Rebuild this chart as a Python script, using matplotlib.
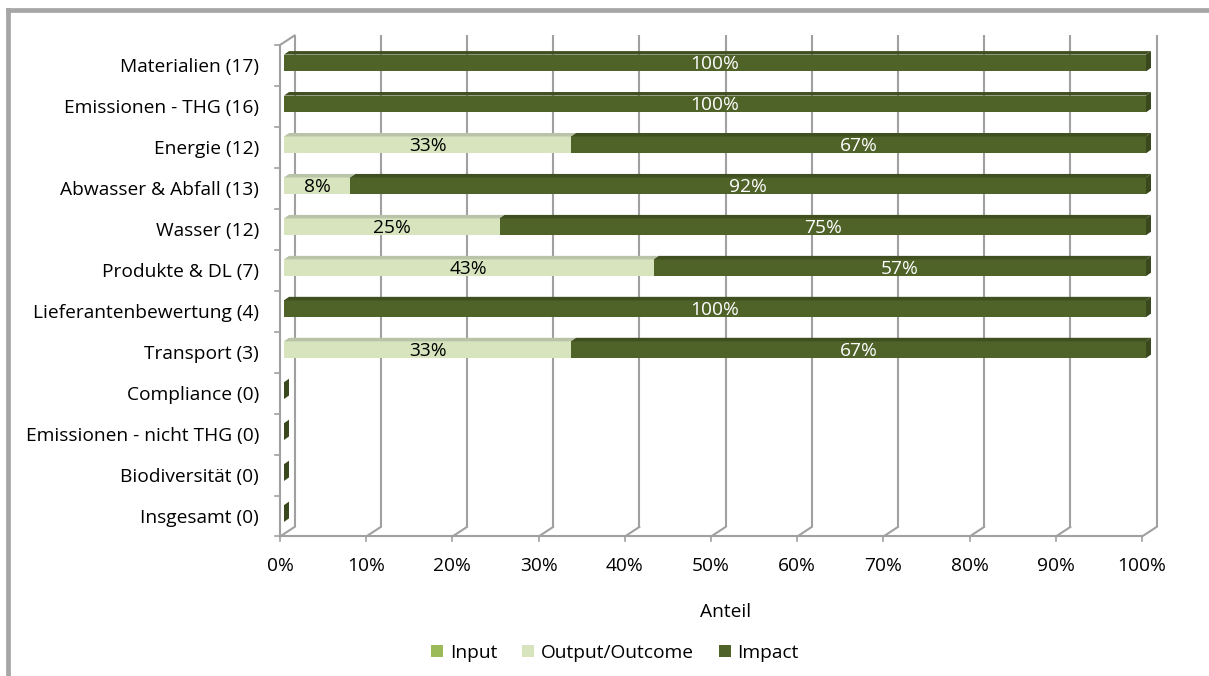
import matplotlib
matplotlib.use("Agg")
import matplotlib.pyplot as plt
from matplotlib.transforms import offset_copy, IdentityTransform
from matplotlib.patches import Polygon, Patch
from matplotlib.lines import Line2D

plt.rcParams['font.family'] = ['Open Sans', 'DejaVu Sans']
FS = 13.8

categories = ["Materialien (17)", "Emissionen - THG (16)", "Energie (12)",
              "Abwasser & Abfall (13)", "Wasser (12)", "Produkte & DL (7)",
              "Lieferantenbewertung (4)", "Transport (3)", "Compliance (0)",
              "Emissionen - nicht THG (0)", "Biodiversität (0)", "Insgesamt (0)"]
input_vals = [0, 0, 0, 0, 0, 0, 0, 0, 0, 0, 0, 0]
output_vals = [0, 0, 33.3, 7.7, 25.0, 42.9, 0, 33.3, 0, 0, 0, 0]
impact_vals = [100, 100, 66.7, 92.3, 75.0, 57.1, 100, 66.7, 0, 0, 0, 0]
xticks = [0, 10, 20, 30, 40, 50, 60, 70, 80, 90, 100]
xticklabels = [f"{t}%" for t in xticks]
series_names = ["Input", "Output/Outcome", "Impact"]

front_col = {"Input": "#9bbb59", "Output/Outcome": "#d7e4bd", "Impact": "#4f6228"}
top_col = {"Input": "#8aa64e", "Output/Outcome": "#b9c3a8", "Impact": "#3f4f20"}
side_col = {"Input": "#7d9747", "Output/Outcome": "#aab597", "Impact": "#3a481d"}
lab_col = {"Input": "black", "Output/Outcome": "black", "Impact": "white"}

W, H = 1209, 676
fig = plt.figure(figsize=(W / 100, H / 100), dpi=100)
X0, X1 = 280, 1142
YT, YB = 45, 536.5
ax = fig.add_axes([X0 / W, 1 - YB / H, (X1 - X0) / W, (YB - YT) / H])
n = len(categories)
ax.set_xlim(0, 100)
ax.set_ylim(n - 0.5, -0.5)
ax.axis("off")

DX, DY = 14.5, 9.5          # wall depth in pixels
grid_c = "#a0a0a0"
back = offset_copy(ax.transData, fig=fig, x=DX, y=DY, units="dots")

# back wall gridlines
for t in xticks:
    ax.plot([t, t], [-0.5, n - 0.5], color=grid_c, lw=1.5, transform=back,
            solid_capstyle="butt", zorder=1, clip_on=False)

def disp(x, y, dx=0, dy=0):
    px, py = ax.transData.transform((x, y))
    return (px + dx, py + dy)

# floor slants and left wall
for t in xticks:
    p1 = disp(t, n - 0.5)
    p2 = disp(t, n - 0.5, DX, DY)
    fig.add_artist(Line2D([p1[0], p2[0]], [p1[1], p2[1]], color=grid_c, lw=1.5,
                          transform=IdentityTransform()))
p1 = disp(0, -0.5)
p2 = disp(0, -0.5, DX, DY)
fig.add_artist(Line2D([p1[0], p2[0]], [p1[1], p2[1]], color=grid_c, lw=1.5,
                      transform=IdentityTransform()))
ax.plot([0, 100], [n - 0.5, n - 0.5], color=grid_c, lw=1.5, clip_on=False, zorder=1)
ax.plot([0, 0], [-0.5, n - 0.5], color=grid_c, lw=1.5, clip_on=False, zorder=1)
# ticks
for i in range(n + 1):
    p = disp(0, i - 0.5)
    fig.add_artist(Line2D([p[0] - 5, p[0]], [p[1], p[1]], color=grid_c, lw=1.2,
                          transform=IdentityTransform()))
for t, lab in zip(xticks, xticklabels):
    p = disp(t, n - 0.5)
    fig.add_artist(Line2D([p[0], p[0]], [p[1], p[1] - 5], color=grid_c, lw=1.2,
                          transform=IdentityTransform()))
    ax.text(t, n - 0.5, lab, transform=offset_copy(
        ax.transData, fig=fig, x=0, y=-30, units="dots"),
        ha="center", va="center", fontsize=FS, color="black")

for i, c in enumerate(categories):
    ax.text(0, i, c, transform=offset_copy(ax.transData, fig=fig, x=-21, y=-2, units="dots"),
            ha="right", va="center", fontsize=FS, color="black")

# bars
BO_X, BO_Y = 4, 2.5       # front face offset
BD_X, BD_Y = 5, 3.5       # bar depth
bh = 0.41
btr = offset_copy(ax.transData, fig=fig, x=BO_X, y=BO_Y, units="dots")
ltr = offset_copy(ax.transData, fig=fig, x=BO_X, y=BO_Y - 1.5, units="dots")
series = [input_vals, output_vals, impact_vals]
for i in range(n):
    left = 0
    for name, vals in zip(series_names, series):
        v = vals[i]
        if v > 0:
            ax.barh(i, v, left=left, height=bh, color=front_col[name],
                    transform=btr, zorder=3, edgecolor="none", clip_on=False)
            a = disp(left, i - bh / 2, BO_X, BO_Y)
            b = disp(left + v, i - bh / 2, BO_X, BO_Y)
            top = Polygon([a, b, (b[0] + BD_X, b[1] + BD_Y), (a[0] + BD_X, a[1] + BD_Y)],
                          closed=True, facecolor=top_col[name], edgecolor="none",
                          transform=IdentityTransform(), zorder=3)
            fig.add_artist(top)
            ax.text(left + v / 2, i, f"{v:.0f}%", transform=ltr, ha="center",
                    va="center", fontsize=FS, color=lab_col[name], zorder=5)
        left += v
    # right end cap
    name = "Impact"
    a = disp(left, i - bh / 2, BO_X, BO_Y)
    b = disp(left, i + bh / 2, BO_X, BO_Y)
    cap = Polygon([b, a, (a[0] + BD_X, a[1] + BD_Y), (b[0] + BD_X, b[1] + BD_Y)],
                  closed=True, facecolor=side_col[name], edgecolor="none",
                  transform=IdentityTransform(), zorder=4)
    fig.add_artist(cap)

fig.text(726 / W, 1 - 612 / H, "Anteil", ha="center", va="center", fontsize=FS)

handles = [Patch(facecolor=front_col[s], edgecolor="none") for s in series_names]
fig.legend(handles, series_names, loc="center", bbox_to_anchor=(615 / W, 1 - 653 / H),
           ncol=3, frameon=False, fontsize=FS, handlelength=0.62, handleheight=0.62,
           handletextpad=0.35, columnspacing=1.3)

# outer frame
frame_c = "#a6a6a6"
fig.add_artist(Line2D([7.5 / W, 7.5 / W], [0, 1 - 9.5 / H], color=frame_c, lw=3.4,
                      transform=fig.transFigure, solid_capstyle="projecting"))
fig.add_artist(Line2D([7.5 / W, 1], [1 - 9.5 / H, 1 - 9.5 / H], color=frame_c, lw=3.4,
                      transform=fig.transFigure, solid_capstyle="projecting"))

fig.savefig("out.png", dpi=100, facecolor="white")
